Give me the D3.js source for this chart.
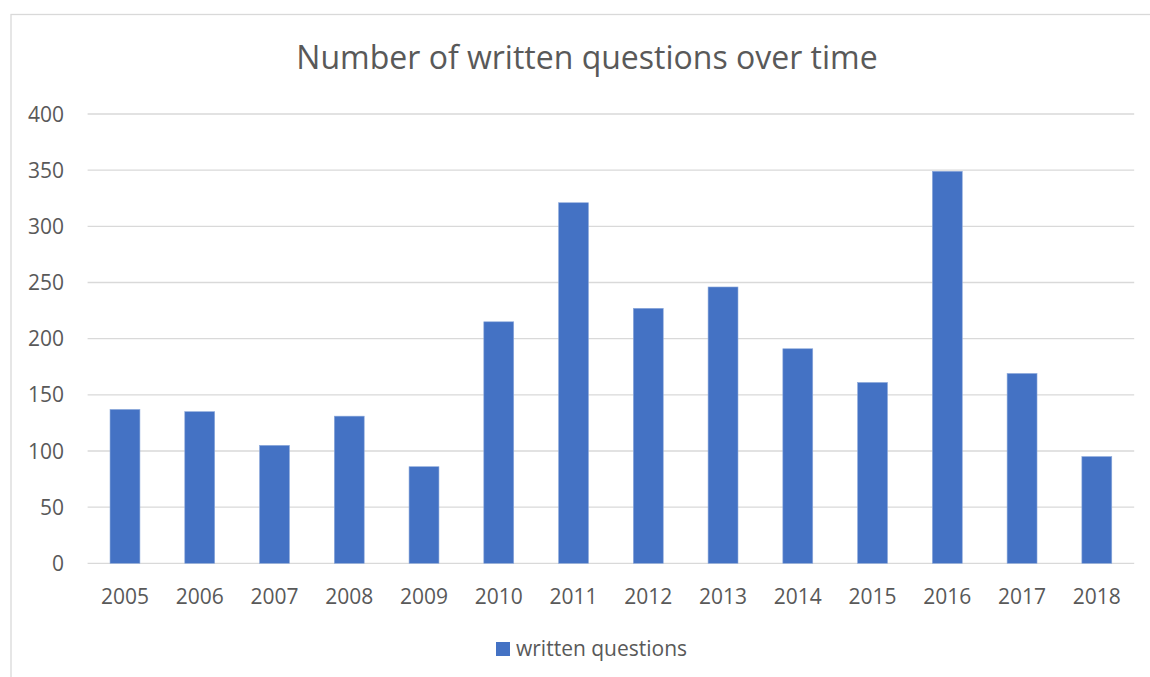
<!DOCTYPE html>
<html>
<head>
<meta charset="utf-8">
<script src="https://cdn.jsdelivr.net/npm/d3@7"></script>
<style>
  html, body { margin: 0; padding: 0; background: #fff; }
  svg { display: block; }
  text { font-family: "Open Sans", Lato, sans-serif; fill: #595959; }
</style>
</head>
<body>
<svg id="chart" width="1150" height="677"></svg>
<script>
const categories = ["2005","2006","2007","2008","2009","2010","2011","2012","2013","2014","2015","2016","2017","2018"];
const values = [137, 135, 105, 131, 86, 215, 321, 227, 246, 191, 161, 349, 169, 95];
const yTicks = [0, 50, 100, 150, 200, 250, 300, 350, 400];
const seriesName = "written questions";
const title = "Number of written questions over time";

const svg = d3.select("#chart");
const margin = { left: 87.6, right: 1134.2, top: 114, bottom: 563.3 };

// outer chart border
svg.append("rect")
  .attr("x", 11).attr("y", 14.5)
  .attr("width", 1160).attr("height", 700)
  .attr("fill", "#fff").attr("stroke", "#d9d9d9").attr("stroke-width", 1.3);

const x = d3.scaleBand().domain(categories)
  .range([margin.left, margin.right])
  .paddingInner(0.6).paddingOuter(0.3);
const y = d3.scaleLinear().domain([0, 400]).range([margin.bottom, margin.top]);

// gridlines
svg.append("g").selectAll("line").data(yTicks).join("line")
  .attr("x1", margin.left).attr("x2", margin.right)
  .attr("y1", d => y(d)).attr("y2", d => y(d))
  .attr("stroke", "#d9d9d9").attr("stroke-width", 1.3);

// y labels
svg.append("g").selectAll("text").data(yTicks).join("text")
  .attr("x", 64).attr("y", d => y(d))
  .attr("dy", "0.36em")
  .attr("text-anchor", "end")
  .style("font-size", "21px")
  .text(d => d);

// bars
svg.append("g").selectAll("rect").data(values).join("rect")
  .attr("x", (d, i) => x(categories[i]))
  .attr("width", x.bandwidth())
  .attr("y", d => y(d))
  .attr("height", d => y(0) - y(d))
  .attr("fill", "#4472c4")
  .attr("stroke", "#8eaadb").attr("stroke-width", 0.6);

// x labels
svg.append("g").selectAll("text").data(categories).join("text")
  .attr("x", d => x(d) + x.bandwidth() / 2)
  .attr("y", 603.5)
  .attr("text-anchor", "middle")
  .style("font-size", "21px")
  .text(d => d);

// title
svg.append("text")
  .attr("x", 587).attr("y", 69)
  .attr("text-anchor", "middle")
  .style("font-size", "32px")
  .text(title);

// legend
const lg = svg.append("g");
lg.append("rect").attr("x", 496).attr("y", 642).attr("width", 14).attr("height", 14).attr("fill", "#4472c4");
lg.append("text").attr("x", 516).attr("y", 655.5).style("font-size", "21px").text(seriesName);
</script>
</body>
</html>
